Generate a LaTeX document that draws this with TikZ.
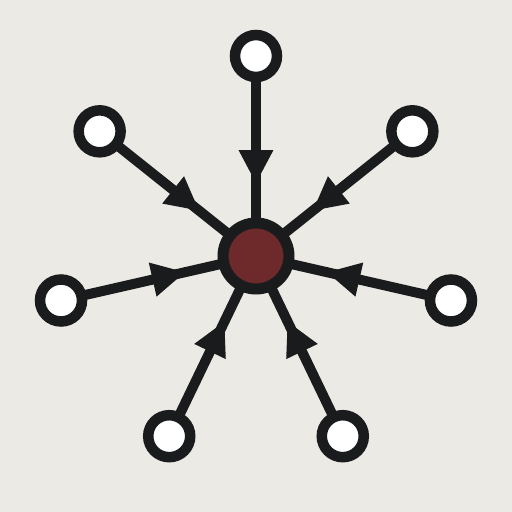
\documentclass[tikz,border=0pt]{standalone}
\definecolor{bg}{HTML}{EBEAE4}
\definecolor{ink}{HTML}{1A1B1D}
\definecolor{hubred}{HTML}{6E2A2B}
\begin{document}
\begin{tikzpicture}[x=1pt,y=1pt,
  leaf/.style={circle,draw=ink,fill=white,line width=10.5pt,minimum size=42pt,inner sep=0pt,outer sep=0pt},
  hubnode/.style={circle,draw=ink,fill=hubred,line width=11pt,minimum size=66pt,inner sep=0pt,outer sep=0pt},
  spoke/.style={draw=ink,line width=10pt},
  head/.style={fill=ink}]
\fill[bg] (-256,-256) rectangle (256,256);
\useasboundingbox (-256,-256) rectangle (256,256);
\node[hubnode] (hub) at (0,0) {};
\foreach \k in {0,...,6}{
  \pgfmathsetmacro{\a}{90+\k*360/7}
  \node[leaf] (o\k) at (\a:200) {};
  \draw[spoke] (o\k) -- (hub);
  \begin{scope}[rotate=\a]
    \fill[head] (106,17.5) -- (73,0) -- (106,-17.5) -- cycle;
  \end{scope}
}
\end{tikzpicture}
\end{document}
